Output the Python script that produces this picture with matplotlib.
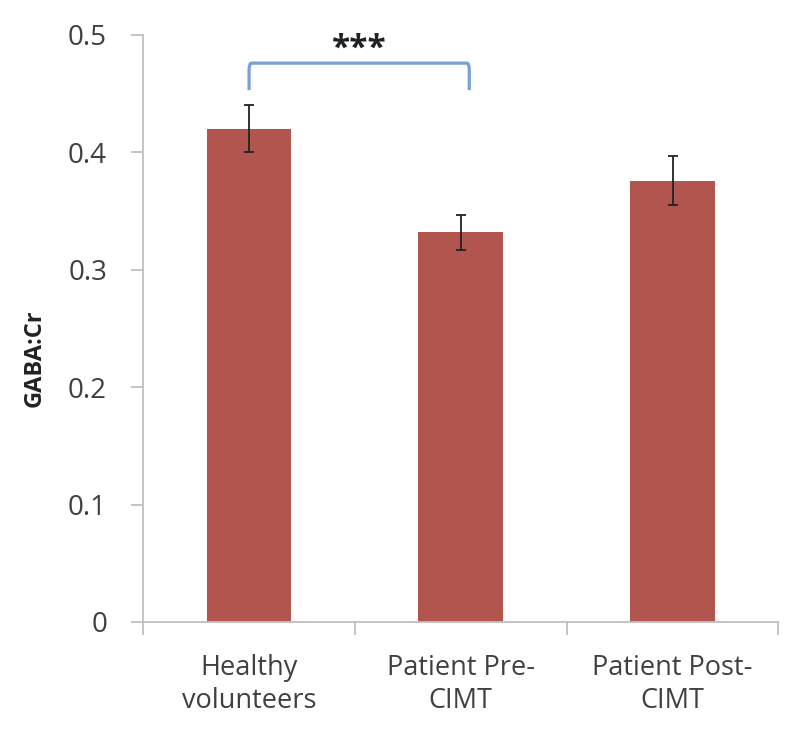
import numpy as np
import matplotlib.pyplot as plt
from matplotlib.path import Path
from matplotlib.patches import PathPatch

# ===============================================================
# DATA
# ===============================================================
groups = ["Healthy\nvolunteers", "Patient Pre-\nCIMT", "Patient Post-\nCIMT"]
gaba_cr = [0.420, 0.332, 0.376]
gaba_err = [0.020, 0.015, 0.021]
y_ticks = [0, 0.1, 0.2, 0.3, 0.4, 0.5]
y_tick_labels = ["0", "0.1", "0.2", "0.3", "0.4", "0.5"]
sig_pair = (0, 1)
sig_label = "***"

# --- style ---
bar_color = "#B3554F"
text_color = "#404040"
spine_color = "#BFBFBF"
bracket_color = "#76A0D6"

plt.rcParams["font.family"] = ["Open Sans", "DejaVu Sans"]

fig = plt.figure(figsize=(8, 7.44), dpi=100)
ax = fig.add_axes([0.179, 0.164, 0.794, 0.789])

x = np.arange(len(groups))
ax.bar(x, gaba_cr, width=0.4, color=bar_color, zorder=2)
ax.errorbar(x, gaba_cr, yerr=gaba_err, fmt="none", ecolor="#222222",
            elinewidth=1.3, capsize=3.5, capthick=1.3, zorder=3)

# --- axes ---
ax.set_xlim(-0.5, len(groups) - 0.5)
ax.set_ylim(0, 0.5)
ax.set_yticks(y_ticks)
ax.set_yticklabels(y_tick_labels)
ax.set_xticks(x)
ax.set_xticklabels(groups, linespacing=1.25)
ax.set_xticks(np.arange(-0.5, len(groups)), minor=True)

for side in ["top", "right"]:
    ax.spines[side].set_visible(False)
for side in ["left", "bottom"]:
    ax.spines[side].set_color(spine_color)
    ax.spines[side].set_linewidth(1.3)

ax.tick_params(axis="y", direction="out", length=9, width=1.3, color=spine_color,
               pad=17, labelsize=20, labelcolor=text_color)
ax.tick_params(axis="x", which="major", length=0, pad=23,
               labelsize=19.5, labelcolor=text_color)
ax.tick_params(axis="x", which="minor", direction="out", length=9, width=1.3,
               color=spine_color)

ax.set_ylabel("GABA:Cr", fontsize=17, fontweight="bold", color="#222222")
ax.yaxis.set_label_coords(-0.152, 0.45)

# --- significance bracket ---
x0, x1 = sig_pair[0], sig_pair[1] + 0.04
y_low, y_top = 0.453, 0.476
r = 0.012
verts = [(x0, y_low), (x0, y_top - 0.006), (x0, y_top), (x0 + r, y_top),
         (x1 - r, y_top), (x1, y_top), (x1, y_top - 0.006), (x1, y_low)]
codes = [Path.MOVETO, Path.LINETO, Path.CURVE3, Path.CURVE3,
         Path.LINETO, Path.CURVE3, Path.CURVE3, Path.LINETO]
ax.add_patch(PathPatch(Path(verts, codes), fill=False, edgecolor=bracket_color,
                       linewidth=2.3, clip_on=False, zorder=4))
ax.text((x0 + x1) / 2, 0.488, sig_label, ha="center", va="center",
        fontsize=24, fontweight="bold", color="#222222")

fig.savefig("out.png", dpi=100)
